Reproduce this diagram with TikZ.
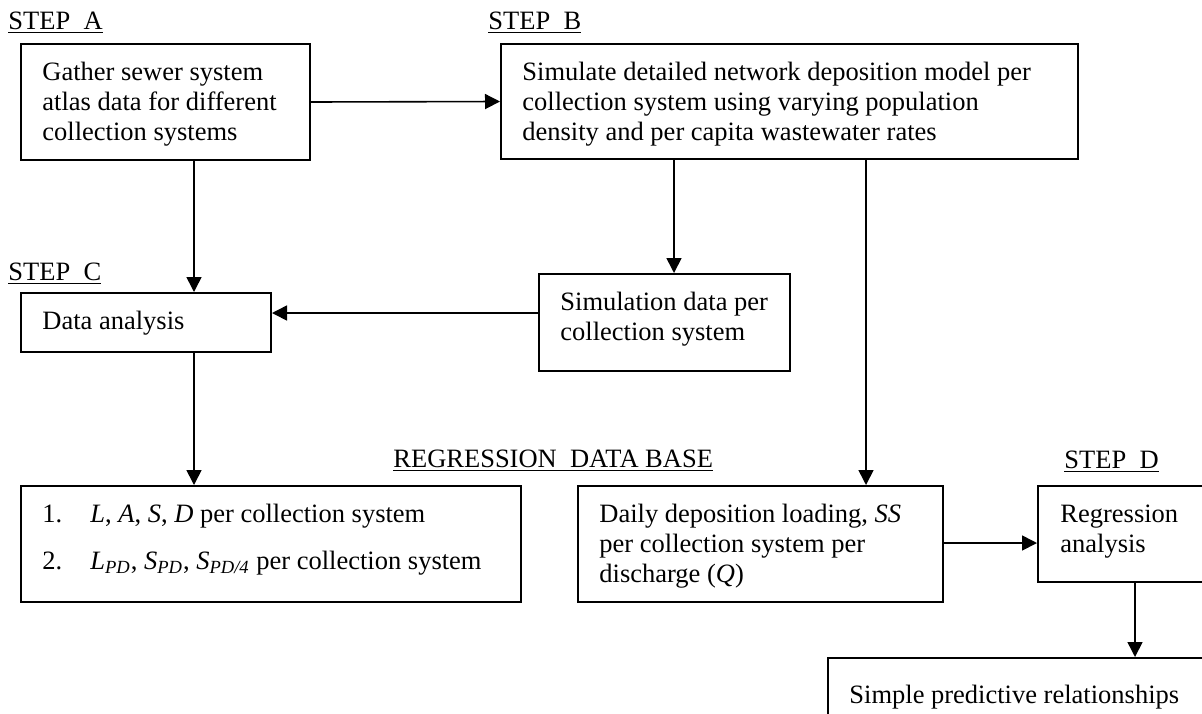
\documentclass[tikz,border=0pt]{standalone}
\usepackage{fontspec}
\setmainfont{Liberation Serif}
\usetikzlibrary{arrows.meta,fit}
\begin{document}
\begin{tikzpicture}[x=0.5pt,y=-0.5pt,
  box/.style={draw, line width=1pt, inner sep=0pt, rectangle},
  txt/.style={inner sep=0pt, anchor=base west, font=\fontsize{13.25}{15}\selectfont},
  conn/.style={line width=0.8pt, -{Triangle[length=7.5pt,width=7.5pt]}}]
\useasboundingbox (0,0) rectangle (1202,713);
% boxes
\node[box, fit={(21,44) (310,160)}] (A) {};
\node[box, fit={(501,44) (1078,159)}] (B) {};
\node[box, fit={(21,293) (271,352)}] (DA) {};
\node[box, fit={(539,274) (790,371)}] (Sim) {};
\node[box, fit={(21,486) (521,602)}] (LB) {};
\node[box, fit={(578,486) (943,602)}] (Daily) {};
\node[box, fit={(1038,486) (1212,582)}] (Reg) {};
\node[box, fit={(828,658) (1215,730)}] (Final) {};
% labels
\node[txt] (La) at (8,29) {\underline{STEP~~A}};
\node[txt] (Lb) at (488,29) {\underline{STEP~~B}};
\node[txt] (Lc) at (8,280) {\underline{STEP~~C}};
\node[txt] (Lr) at (393,467) {\underline{REGRESSION~~DATA BASE}};
\node[txt] (Ld) at (1064,468) {\underline{STEP~~D}};
% texts
\node[txt] (At) at (42,80) {\begin{tabular}[t]{@{}l@{}}Gather sewer system\\atlas data for different\\collection systems\end{tabular}};
\node[txt] (Bt) at (522,80) {\begin{tabular}[t]{@{}l@{}}Simulate detailed network deposition model per\\collection system using varying population\\density and per capita wastewater rates\end{tabular}};
\node[txt] (DAt) at (42,329) {Data analysis};
\node[txt] (Simt) at (560,310) {\begin{tabular}[t]{@{}l@{}}Simulation data per\\collection system\end{tabular}};
\node[txt] (LBt) at (42,522) {\begin{tabular}[t]{@{}l@{}}\makebox[24pt][l]{1.}\textit{L}, \textit{A}, \textit{S}, \textit{D} per collection system\\[8.5pt]\makebox[24pt][l]{2.}\textit{L}\textsubscript{\textit{PD}}, \textit{S}\textsubscript{\textit{PD}}, \textit{S}\textsubscript{\textit{PD/4}} per collection system\end{tabular}};
\node[txt] (Dt) at (599,522) {\begin{tabular}[t]{@{}l@{}}Daily deposition loading, \textit{SS}\\per collection system per\\discharge (\textit{Q})\end{tabular}};
\node[txt] (Rt) at (1060,522) {\begin{tabular}[t]{@{}l@{}}Regression\\analysis\end{tabular}};
\node[txt] (Ft) at (849,703) {Simple predictive relationships};
% connectors
\coordinate (xa) at (194,0);
\coordinate (xb) at (674,0);
\coordinate (xc) at (866,0);
\coordinate (xd) at (1135,0);
\coordinate (ys) at (0,313);
\coordinate (yd) at (0,543);
\draw[conn] (A.east) -- (B.west);
\draw[conn] (A.south -| xa) -- (DA.north -| xa);
\draw[conn] (DA.south -| xa) -- (LB.north -| xa);
\draw[conn] (B.south -| xb) -- (Sim.north -| xb);
\draw[conn] (B.south -| xc) -- (Daily.north -| xc);
\draw[conn] (Sim.west |- ys) -- (DA.east |- ys);
\draw[conn] (Daily.east |- yd) -- (Reg.west |- yd);
\draw[conn] (Reg.south -| xd) -- (Final.north -| xd);
\end{tikzpicture}
\end{document}
